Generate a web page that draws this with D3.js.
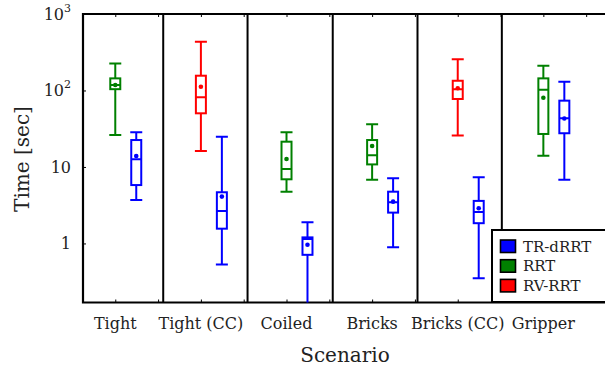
<!DOCTYPE html>
<html>
<head>
<meta charset="utf-8">
<script src="https://cdn.jsdelivr.net/npm/d3@7"></script>
<style>
  body { margin: 0; background: #fff; }
</style>
</head>
<body>
<div id="chart"></div>
<script>
// scenarios along the x axis
const scenarios = ['Tight', 'Tight (CC)', 'Coiled', 'Bricks', 'Bricks (CC)', 'Gripper'];
const seriesNames = ['TR-dRRT', 'RRT', 'RV-RRT'];
const seriesColors = ['#0000ff', '#008000', '#ff0000'];
// x positions (scenario units) of the vertical lines between scenarios
const separators = [1.56, 2.545, 3.54, 4.53, 5.515];

// each entry: [whisker low, q1, median, q3, whisker high, mean] in seconds, null = not run
const trDRRT = [
  [3.7, 5.8, 12.6, 22.5, 28.4, 13.9],
  [0.53, 1.56, 2.66, 4.67, 24.9, 4.1],
  [0.15, 0.71, 1.14, 1.2, 1.89, 0.96],
  [0.89, 2.53, 3.45, 4.75, 7.1, 3.52],
  [0.35, 1.84, 2.58, 3.6, 7.33, 2.88],
  [6.8, 27.6, 43.3, 73.6, 130, 43]
];
const rrt = [
  [26.2, 104, 118, 144, 226, 118],
  null,
  [4.75, 6.9, 9.4, 21.4, 28.4, 12.7],
  [6.8, 10.8, 14.2, 22.5, 36.1, 18.8],
  null,
  [14, 27, 102, 144, 211, 80.5]
];
const rvRRT = [
  null,
  [16.2, 50.3, 81.5, 156, 434, 112],
  null,
  null,
  [25.7, 77.4, 104, 134, 256, 107],
  null
];
const yTicks = [1, 10, 100, 1000];

const W = 605, H = 368;
const m = { left: 83, top: 14, right: 605, bottom: 302.5 };
const FONT = "'DejaVu Serif', 'Liberation Serif', serif";

const svg = d3.select('#chart').append('svg').attr('width', W).attr('height', H)
  .attr('font-family', FONT);

const x = d3.scaleLinear().domain([0.623, 6.72]).range([m.left, m.right]);
const y = d3.scaleLog().domain([0.169, 1000]).range([m.bottom, m.top]);

svg.append('clipPath').attr('id', 'clip').append('rect')
  .attr('x', m.left).attr('y', m.top).attr('width', m.right - m.left).attr('height', m.bottom - m.top);

// group separators
svg.append('g').selectAll('line').data(separators).join('line')
  .attr('x1', d => x(d)).attr('x2', d => x(d))
  .attr('y1', m.top).attr('y2', m.bottom)
  .attr('stroke', '#000').attr('stroke-width', 2);

// axes (ticks inward)
const halfTicks = d3.range(1, scenarios.length + 0.6, 0.5);
svg.append('g').attr('transform', `translate(0,${m.bottom})`)
  .call(d3.axisTop(x).tickValues(halfTicks).tickSize(3).tickFormat(''))
  .call(g => g.select('.domain').remove());
svg.append('g').attr('transform', `translate(0,${m.top})`)
  .call(d3.axisBottom(x).tickValues(halfTicks).tickSize(3).tickFormat(''))
  .call(g => g.select('.domain').remove());
svg.append('g').attr('transform', `translate(${m.left},0)`)
  .call(d3.axisRight(y).tickValues(yTicks).tickSize(3).tickFormat(''))
  .call(g => g.select('.domain').remove());

// frame: left, top, bottom (right edge runs off the picture)
svg.append('path')
  .attr('d', `M${m.right},${m.top}H${m.left}V${m.bottom}H${m.right}`)
  .attr('fill', 'none').attr('stroke', '#000').attr('stroke-width', 2.2);

// y tick labels
const yl = svg.append('g').attr('font-size', 16).attr('text-anchor', 'end').attr('fill', '#222');
yTicks.forEach(t => {
  const txt = yl.append('text').attr('x', 71).attr('y', y(t) + 6);
  const e = Math.round(Math.log10(t));
  if (e >= 2) {
    txt.append('tspan').text('10');
    txt.append('tspan').attr('dy', -8).attr('font-size', 11).text(e);
  } else {
    txt.text(t);
  }
});

// x tick labels
svg.append('g').attr('font-size', 16).attr('text-anchor', 'middle').attr('fill', '#222')
  .selectAll('text').data(scenarios).join('text')
  .attr('x', (d, i) => x(i + 1)).attr('y', 329)
  .text(d => d);

svg.append('text').attr('x', 345).attr('y', 362).attr('text-anchor', 'middle')
  .attr('font-size', 20).attr('fill', '#222').text('Scenario');
svg.append('text').attr('transform', 'translate(29,159) rotate(-90)')
  .attr('text-anchor', 'middle').attr('font-size', 20).attr('fill', '#222').text('Time [sec]');

// boxes: first box of each group is RRT or RV-RRT, TR-dRRT sits to its right
const boxes = [];
scenarios.forEach((s, i) => {
  if (rrt[i]) boxes.push({ pos: i + 1, st: rrt[i], color: seriesColors[1] });
  if (rvRRT[i]) boxes.push({ pos: i + 1, st: rvRRT[i], color: seriesColors[2] });
  if (trDRRT[i]) boxes.push({ pos: i + 1.245, st: trDRRT[i], color: seriesColors[0] });
});

const bw = 5, cw = 6;
const bg = svg.append('g').attr('clip-path', 'url(#clip)');
boxes.forEach(b => {
  const cx = x(b.pos);
  const [lo, q1, med, q3, hi, mean] = b.st;
  const g = bg.append('g').attr('stroke', b.color).attr('stroke-width', 2).attr('fill', 'none');
  g.append('line').attr('x1', cx).attr('x2', cx).attr('y1', y(hi)).attr('y2', y(q3));
  g.append('line').attr('x1', cx).attr('x2', cx).attr('y1', y(q1)).attr('y2', y(lo));
  g.append('line').attr('x1', cx - cw).attr('x2', cx + cw).attr('y1', y(hi)).attr('y2', y(hi));
  g.append('line').attr('x1', cx - cw).attr('x2', cx + cw).attr('y1', y(lo)).attr('y2', y(lo));
  g.append('rect').attr('x', cx - bw).attr('width', 2 * bw)
    .attr('y', y(q3)).attr('height', y(q1) - y(q3));
  g.append('line').attr('x1', cx - bw).attr('x2', cx + bw).attr('y1', y(med)).attr('y2', y(med));
  g.append('circle').attr('cx', cx).attr('cy', y(mean)).attr('r', 2.3)
    .attr('fill', b.color).attr('stroke', 'none');
});

// legend
const lg = svg.append('g');
lg.append('rect').attr('x', 492).attr('y', 230).attr('width', 120).attr('height', 72)
  .attr('fill', '#fff').attr('stroke', '#000').attr('stroke-width', 2);
seriesNames.forEach((n, i) => {
  const ly = 240 + i * 19.7;
  lg.append('rect').attr('x', 500.5).attr('y', ly).attr('width', 15).attr('height', 12.5)
    .attr('fill', seriesColors[i]).attr('stroke', '#000').attr('stroke-width', 1.6);
  lg.append('text').attr('x', 523).attr('y', ly + 11.5).attr('font-size', 15).attr('fill', '#222').text(n);
});
</script>
</body>
</html>
